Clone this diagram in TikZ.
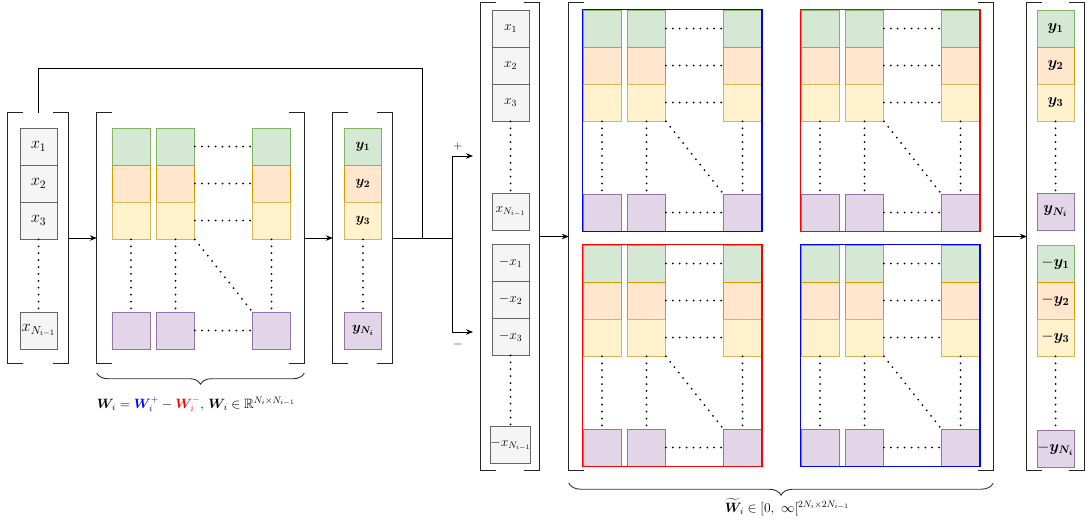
\RequirePackage{fix-cm}
\documentclass[tikz,border=0pt]{standalone}
\usepackage{amsmath,amssymb}
\usetikzlibrary{arrows.meta,positioning,fit,decorations.pathreplacing}
\definecolor{gfill}{HTML}{D5E8D4}\definecolor{gline}{HTML}{82B366}
\definecolor{ofill}{HTML}{FFE6CC}\definecolor{oline}{HTML}{D79B00}
\definecolor{yfill}{HTML}{FFF2CC}\definecolor{yline}{HTML}{D6B656}
\definecolor{pfill}{HTML}{E1D5E7}\definecolor{pline}{HTML}{9673A6}
\definecolor{xfill}{HTML}{F5F5F5}\definecolor{xline}{HTML}{666666}
\tikzset{
  cell/.style={rectangle, line width=0.8pt, minimum width=37pt,
    minimum height=37pt, inner sep=0pt},
  gcell/.style={cell, draw=gline, fill=gfill},
  ocell/.style={cell, draw=oline, fill=ofill},
  ycell/.style={cell, draw=yline, fill=yfill},
  pcell/.style={cell, draw=pline, fill=pfill},
  xcell/.style={cell, draw=xline, fill=xfill},
  mcell/.style={minimum width=38pt},
  dots/.style={line width=2pt, line cap=round, dash pattern=on 0pt off 6.9pt},
  brbox/.style={rectangle, inner sep=0pt},
  brk/.style={line width=1.3pt, black!85},
  wframe/.style={draw=#1, line width=1.3pt, inner sep=0pt},
  ar/.style={-{Stealth[length=7pt,width=5.5pt]}, line width=0.8pt},
  ln/.style={line width=0.8pt},
  brc/.style={decorate, decoration={brace, amplitude=#1}, line width=0.9pt, black!80},
  lbl/.style={font=\fontsize{13.5}{15}\selectfont},
  bigtxt/.style={font=\fontsize{16.5}{18}\selectfont},
  midtxt/.style={font=\fontsize{14}{16}\selectfont},
  smtxt/.style={font=\fontsize{13.5}{15}\selectfont},
  rtxt/.style={font=\fontsize{15.5}{17}\selectfont},
}
% one block of the weight matrix, top left corner at (#2,#3)
\newcommand{\wblock}[3]{%
  \node[gcell, mcell] (#1a1) at (#2+19,#3+18.5) {};
  \node[ocell, mcell] (#1a2) at (#2+19,#3+55.5) {};
  \node[ycell, mcell] (#1a3) at (#2+19,#3+92.5) {};
  \node[pcell, mcell] (#1aN) at (#2+19,#3+202.5) {};
  \node[gcell, mcell] (#1b1) at (#2+63.5,#3+18.5) {};
  \node[ocell, mcell] (#1b2) at (#2+63.5,#3+55.5) {};
  \node[ycell, mcell] (#1b3) at (#2+63.5,#3+92.5) {};
  \node[pcell, mcell] (#1bN) at (#2+63.5,#3+202.5) {};
  \node[gcell, mcell] (#1c1) at (#2+159.5,#3+18.5) {};
  \node[ocell, mcell] (#1c2) at (#2+159.5,#3+55.5) {};
  \node[ycell, mcell] (#1c3) at (#2+159.5,#3+92.5) {};
  \node[pcell, mcell] (#1cN) at (#2+159.5,#3+202.5) {};
  \draw[dots] (#1b1.east) -- (#1c1.west);
  \draw[dots] (#1b2.east) -- (#1c2.west);
  \draw[dots] (#1b3.east) -- (#1c3.west);
  \draw[dots] (#1bN.east) -- (#1cN.west);
  \draw[dots] (#1a3.south) -- (#1aN.north);
  \draw[dots] (#1b3.south) -- (#1bN.north);
  \draw[dots] (#1c3.south) -- (#1cN.north);
  \draw[dots] (#1b3.south east) -- (#1cN.north west);
}
% square brackets round a box node
\newcommand{\brackets}[1]{%
  \draw[brk] ([xshift=15pt]#1.north west) -- (#1.north west)
    -- (#1.south west) -- ([xshift=15pt]#1.south west);
  \draw[brk] ([xshift=-15pt]#1.north east) -- (#1.north east)
    -- (#1.south east) -- ([xshift=-15pt]#1.south east);
}

\begin{document}
\begin{tikzpicture}[x=1pt, y=-1pt]
\useasboundingbox (0,0) rectangle (1090,528);

% ===================== LAYER i : SIGNED WEIGHTS =====================
\node[brbox, minimum width=60pt, minimum height=250pt] (vin) at (38,238) {};
\node[brbox, minimum width=207pt, minimum height=250pt] (wmat) at (200.5,238) {};
\node[brbox, minimum width=59pt, minimum height=250pt] (vout) at (362.5,238) {};
\brackets{vin}
\brackets{wmat}
\brackets{vout}

\node[xcell, bigtxt] (xin1) at (38.5,146.5) {$x_1$};
\node[xcell, bigtxt] (xin2) at (38.5,183.5) {$x_2$};
\node[xcell, bigtxt] (xin3) at (38.5,220.5) {$x_3$};
\node[xcell, bigtxt] (xinN) at (38.5,330.5) {$x_{N_{i-1}}$};
\draw[dots] (xin3.south) -- (xinN.north);

\wblock{w}{112}{128}

\node[gcell, midtxt] (yout1) at (363,146.5) {$\boldsymbol{y_1}$};
\node[ocell, midtxt] (yout2) at (363,183.5) {$\boldsymbol{y_2}$};
\node[ycell, midtxt] (yout3) at (363,220.5) {$\boldsymbol{y_3}$};
\node[pcell, midtxt] (youtN) at (363,330.5) {$\boldsymbol{y_{N_i}}$};
\draw[dots] (yout3.south) -- (youtN.north);

\draw[ar] (vin.east) -- (wmat.west);
\draw[ar] (wmat.east) -- (vout.west);

\draw[brc=11pt] ([yshift=-10pt]wmat.south east) -- ([yshift=-10pt]wmat.south west);
\node[lbl] (wlab) at (196,404) {$\boldsymbol{W}_{\!i} = {\color{blue}\boldsymbol{W}_{\!i}^{+}} - {\color{red}\boldsymbol{W}_{\!i}^{-}},\, \boldsymbol{W}_{\!i} \in \mathbb{R}^{N_i\times N_{i-1}}$};

% ===================== SPLIT INTO + AND - =====================
\coordinate (fork) at (452,238);
\coordinate (loopjoin) at (422,238);
\coordinate (pend) at (473,156);
\coordinate (mend) at (473,332);
\draw[ln] (vout.east) -- (fork);
\draw[ln] (vin.north) -- ++(0,-44) -| (loopjoin);
\draw[ar] (fork) |- (pend);
\draw[ar] (fork) |- (mend);
\node[font=\large] (plus) at (458,146) {$+$};
\node[font=\large] (minus) at (458,344) {$-$};

% ===================== NON-NEGATIVE LAYER =====================
\node[brbox, minimum width=58pt, minimum height=467pt] (vcat) at (510,236.5) {};
\node[brbox, minimum width=424pt, minimum height=467pt] (wbig) at (781,236.5) {};
\node[brbox, minimum width=57pt, minimum height=467pt] (vres) at (1055.5,236.5) {};
\brackets{vcat}
\brackets{wbig}
\brackets{vres}

\node[xcell, smtxt] (xp1) at (510.5,28.5) {$x_1$};
\node[xcell, smtxt] (xp2) at (510.5,65.5) {$x_2$};
\node[xcell, smtxt] (xp3) at (510.5,102.5) {$x_3$};
\node[xcell, smtxt] (xpN) at (510.5,211.5) {$x_{N_{i-1}}$};
\node[xcell, smtxt] (xm1) at (510.5,262.5) {$-x_1$};
\node[xcell, smtxt] (xm2) at (510.5,299.5) {$-x_2$};
\node[xcell, smtxt] (xm3) at (510.5,336.5) {$-x_3$};
\node[xcell, smtxt] (xmN) at (510.5,444.5) {$-x_{N_{i-1}}$};
\draw[dots] (xp3.south) -- (xpN.north);
\draw[dots] (xm3.south) -- (xmN.north);

\wblock{tl}{583}{10}
\wblock{tr}{801}{10}
\wblock{bl}{583}{245}
\wblock{br}{801}{245}
\node[wframe=blue, fit=(tla1)(tlcN)] (tlbox) {};
\node[wframe=red, fit=(tra1)(trcN)] (trbox) {};
\node[wframe=red, fit=(bla1)(blcN)] (blbox) {};
\node[wframe=blue, fit=(bra1)(brcN)] (brbox) {};

\node[gcell, rtxt] (yp1) at (1055.5,28.5) {$\boldsymbol{y_1}$};
\node[ocell, rtxt] (yp2) at (1055.5,65.5) {$\boldsymbol{y_2}$};
\node[ycell, rtxt] (yp3) at (1055.5,102.5) {$\boldsymbol{y_3}$};
\node[pcell, rtxt] (ypN) at (1055.5,211.5) {$\boldsymbol{y_{N_i}}$};
\node[gcell, rtxt] (ym1) at (1055.5,263.5) {$-\boldsymbol{y_1}$};
\node[ocell, rtxt] (ym2) at (1055.5,300.5) {$-\boldsymbol{y_2}$};
\node[ycell, rtxt] (ym3) at (1055.5,337.5) {$-\boldsymbol{y_3}$};
\node[pcell, rtxt] (ymN) at (1055.5,448.5) {$-\boldsymbol{y_{N_i}}$};
\draw[dots] (yp3.south) -- (ypN.north);
\draw[dots] (ym3.south) -- (ymN.north);

\draw[ar] (vcat.east) -- (wbig.west);
\draw[ar] (wbig.east) -- (vres.west);

\draw[brc=12pt] ([yshift=-13pt]wbig.south east) -- ([yshift=-13pt]wbig.south west);
\node[lbl] (wtlab) at (787,507) {$\widetilde{\boldsymbol{W}}_{\!i} \in [0,\ \infty[^{2N_i\times 2N_{i-1}}$};

\end{tikzpicture}
\end{document}
